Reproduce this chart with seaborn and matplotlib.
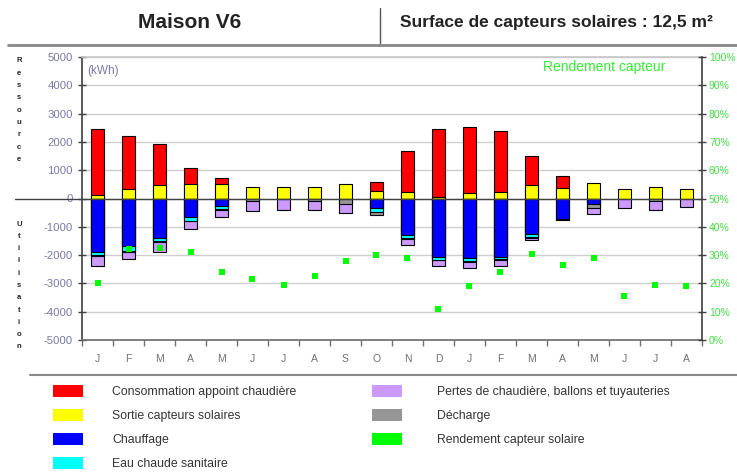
import numpy as np
import pandas as pd
import matplotlib.pyplot as plt
import seaborn as sns
from matplotlib.patches import Rectangle
from matplotlib.lines import Line2D

# ── DATA (kWh per month) ──────────────────────────────────
months = ["J", "F", "M", "A", "M", "J", "J", "A", "S", "O",
          "N", "D", "J", "F", "M", "A", "M", "J", "J", "A"]

# ressources (positive side)
solaire = [140, 320, 470, 520, 520, 400, 400, 400, 520, 260,
           240, 50, 180, 230, 470, 360, 560, 320, 400, 320]
appoint = [2300, 1880, 1460, 575, 220, 0, 0, 0, 0, 335,
           1450, 2390, 2340, 2170, 1020, 440, 0, 0, 0, 0]

# utilisations (negative side)
chauffage = [1880, 1680, 1380, 670, 250, 0, 0, 0, 0, 330,
             1290, 2060, 2120, 2080, 1260, 710, 210, 0, 0, 0]
ecs = [100, 180, 130, 110, 120, 0, 0, 0, 0, 140,
       110, 100, 100, 70, 110, 0, 0, 0, 0, 0]
decharge = [40, 20, 40, 30, 50, 90, 20, 95, 210, 100,
            30, 20, 20, 30, 30, 40, 140, 0, 95, 0]
pertes = [360, 260, 330, 260, 250, 340, 400, 320, 300, 0,
          210, 200, 210, 200, 60, 0, 190, 330, 320, 310]

# rendement capteur (%)
rendement = [20, 32, 32.5, 31, 24, 21.5, 19.5, 22.5, 28, 30,
             29, 11, 19, 24, 30.5, 26.5, 29, 15.5, 19.5, 19]

legend_labels = ["Consommation appoint chaudière", "Sortie capteurs solaires",
                 "Chauffage", "Eau chaude sanitaire",
                 "Pertes de chaudière, ballons et tuyauteries", "Décharge",
                 "Rendement capteur solaire"]

RED, YEL, BLU, CYA = "#ff0000", "#ffff00", "#0000ff", "#00ffff"
LAV, GRY, GRN = "#cc99ff", "#969696", "#00ff00"

W, H = 737, 474
def fx(px):
    return px / W
def fy(py):
    return 1 - py / H

sns.set_theme(style="white")
plt.rcParams['font.family'] = ['Liberation Sans', 'DejaVu Sans']
plt.rcParams['axes.unicode_minus'] = False

fig = plt.figure(figsize=(W / 100, H / 100), dpi=100)
ax = fig.add_axes([fx(82), fy(340), (702 - 82) / W, (340 - 57) / H])

# ── stacked bars drawn as layered cumulative bars ─────────
pos = [str(i) for i in range(len(months))]
df = pd.DataFrame({"pos": pos, "solaire": solaire, "appoint": appoint,
                   "chauffage": chauffage, "ecs": ecs,
                   "decharge": decharge, "pertes": pertes})
df["c_app"] = df["solaire"] + df["appoint"]
df["c_sol"] = df["solaire"]
df["c_chf"] = -df["chauffage"]
df["c_ecs"] = df["c_chf"] - df["ecs"]
df["c_dec"] = df["c_ecs"] - df["decharge"]
df["c_per"] = df["c_dec"] - df["pertes"]

layers = [("c_app", "appoint", RED), ("c_sol", "solaire", YEL),
          ("c_per", "pertes", LAV), ("c_dec", "decharge", GRY),
          ("c_ecs", "ecs", CYA), ("c_chf", "chauffage", BLU)]
for col, comp, color in layers:
    d = df[df[comp] != 0]
    sns.barplot(data=d, x="pos", y=col, order=pos, color=color, saturation=1,
                width=0.4, edgecolor="black", linewidth=0.8, errorbar=None,
                ax=ax, zorder=3)

ax.set_xlim(-0.5, len(months) - 0.5)
ax.set_ylim(-5000, 5000)
ax.set_yticks(range(-5000, 5001, 1000))
ax.yaxis.grid(True, color="#cfcfcf", lw=1)
ax.set_axisbelow(True)
ax.set_xlabel("")
ax.set_ylabel("")
ax.axhline(0, xmin=-0.108, xmax=1, color="#404040", lw=1, clip_on=False, zorder=4)

ax.set_xticks(range(len(months)))
ax.set_xticklabels(months)
ax.set_xticks(np.arange(-0.5, len(months), 1), minor=True)
ax.tick_params(axis="x", which="major", length=0, pad=10, labelsize=7.5, labelcolor="#707070")
ax.tick_params(axis="x", which="minor", length=4, width=1, color="#707070", direction="out", bottom=True)
ax.tick_params(axis="y", length=6, width=1, direction="inout", left=True,
               labelsize=8.2, labelcolor="#7a78a8", color="#404040")
ax.spines["left"].set_color("#404040")
ax.spines["left"].set_linewidth(1.2)
ax.spines["bottom"].set_color("#707070")
ax.spines["top"].set_color("#c8c8c8")
ax.spines["right"].set_visible(False)

# ── rendement on the right axis ───────────────────────────
ax2 = ax.twinx()
sns.scatterplot(x=np.arange(len(months)), y=np.array(rendement) / 100, ax=ax2,
                marker="s", color=GRN, s=24, linewidth=0, zorder=5)
ax2.set_ylim(0, 1)
ax2.set_yticks(np.arange(0, 1.01, 0.1))
ax2.set_yticklabels([f"{int(round(v * 100))}%" for v in np.arange(0, 1.01, 0.1)])
ax2.tick_params(axis="y", length=6, width=1, direction="inout", right=True, pad=2,
                labelsize=7.5, labelcolor="#44dd44", color="#404040")
ax2.spines["right"].set_color("#404040")
ax2.spines["right"].set_linewidth(1.2)
for s in ["left", "top", "bottom"]:
    ax2.spines[s].set_visible(False)
ax2.set_ylabel("")
ax2.set_xlim(-0.5, len(months) - 0.5)

ax.text(0.008, 0.972, "(kWh)", transform=ax.transAxes, ha="left", va="top",
        fontsize=8.5, color="#7a78a8")
ax.text(0.843, 0.965, "Rendement capteur", transform=ax.transAxes, ha="center",
        va="center", fontsize=10, color="#33ee33")

# vertical words on the left
for i, ch in enumerate("Ressource"):
    fig.text(fx(19), fy(61 + i * 12.3), ch, ha="center", va="center",
             fontsize=5.5, fontweight="bold", color="#222222")
for i, ch in enumerate("Utilisation"):
    fig.text(fx(19), fy(224 + i * 12.3), ch, ha="center", va="center",
             fontsize=5.5, fontweight="bold", color="#222222")

# ── header ────────────────────────────────────────────────
fig.text(fx(190), fy(22), "Maison V6", ha="center", va="center",
         fontsize=15, fontweight="bold", color="#222222")
fig.text(fx(400), fy(22), "Surface de capteurs solaires : 12,5 m²", ha="left",
         va="center", fontsize=12.5, fontweight="bold", color="#222222")
fig.add_artist(Line2D([fx(380), fx(380)], [fy(8), fy(45)], color="#555555", lw=1))
fig.add_artist(Line2D([fx(8), fx(737)], [fy(45), fy(45)], color="#888888", lw=2))
fig.add_artist(Line2D([fx(30), fx(737)], [fy(375), fy(375)], color="#888888", lw=1.5))

# ── legend ────────────────────────────────────────────────
leg_colors = [RED, YEL, BLU, CYA, LAV, GRY, GRN]
rows = [391, 415, 439, 463]
for i, (lab, c) in enumerate(zip(legend_labels, leg_colors)):
    if i < 4:
        px, tx, py = 53, 112, rows[i]
    else:
        px, tx, py = 372, 437, rows[i - 4]
    fig.add_artist(Rectangle((fx(px), fy(py + 6)), 30 / W, 12 / H,
                             facecolor=c, edgecolor="none"))
    fig.text(fx(tx), fy(py + 1), lab, ha="left", va="center", fontsize=8.8, color="#333333")

fig.savefig("out.png", dpi=100)
